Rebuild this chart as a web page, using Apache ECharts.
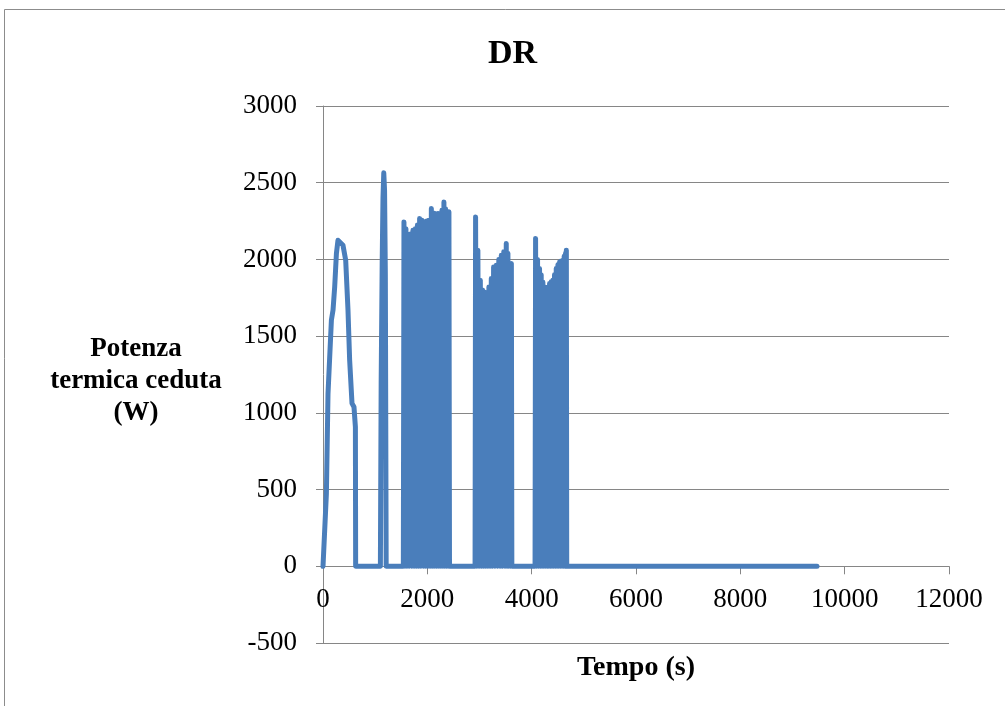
<!DOCTYPE html>
<html><head><meta charset="utf-8">
<script src="https://cdn.jsdelivr.net/npm/echarts@6/dist/echarts.min.js"></script>
<style>html,body{margin:0;padding:0;background:#fff}#c{width:1005px;height:706px}</style>
</head><body><div id="c"></div>
<script>
// ---- data (time in s, thermal power in W) ----
const preludeTime  = [0, 33, 65, 96, 161, 192, 224, 257, 287, 320, 383, 435, 479, 511, 556, 594, 621, 626, 1100, 1115, 1135, 1150, 1165, 1180, 1195, 1211, 1540];
const preludePower = [0, 0, 474, 1126, 1604, 1669, 1821, 2038, 2125, 2128, 2092, 1995, 1669, 1343, 1062, 1038, 908, 0, 0, 1200, 2000, 2400, 2565, 2450, 1900, 0, 0];

const block1Time  = [1540, 1552, 1571, 1590, 1609, 1628, 1652, 1676, 1700, 1724, 1747, 1770, 1790, 1810, 1831, 1852, 1876, 1900, 1924, 1948, 1969, 1990, 2010, 2030, 2053, 2077, 2093, 2110, 2130, 2150, 2176, 2203, 2221, 2240, 2260, 2280, 2299, 2318, 2334, 2350, 2367, 2385, 2399, 2414, 2425];
const block1Power = [0, 2244, 0, 2200, 0, 2158, 0, 2165, 0, 2190, 0, 2200, 0, 2225, 0, 2266, 0, 2255, 0, 2244, 0, 2250, 0, 2255, 0, 2332, 0, 2305, 0, 2300, 0, 2299, 0, 2300, 0, 2320, 0, 2375, 0, 2330, 0, 2312, 0, 2310, 0];

const block2Time  = [2915, 2925, 2947, 2969, 2992, 3016, 3038, 3060, 3079, 3098, 3119, 3140, 3160, 3180, 3203, 3226, 3248, 3270, 3296, 3322, 3346, 3370, 3394, 3418, 3441, 3465, 3489, 3513, 3529, 3545, 3561, 3577, 3594, 3611, 3620];
const block2Power = [0, 2277, 0, 2060, 0, 1864, 0, 1800, 0, 1788, 0, 1760, 0, 1821, 0, 1876, 0, 1951, 0, 1962, 0, 2000, 0, 2027, 0, 2050, 0, 2104, 0, 2040, 0, 1973, 0, 1973, 0];

const block3Time  = [4065, 4075, 4094, 4113, 4132, 4151, 4167, 4183, 4199, 4215, 4234, 4253, 4272, 4291, 4304, 4317, 4330, 4343, 4359, 4375, 4390, 4406, 4422, 4438, 4455, 4471, 4487, 4503, 4519, 4535, 4550, 4566, 4582, 4598, 4610, 4623, 4636, 4649, 4657, 4665, 4672];
const block3Power = [0, 2136, 0, 2000, 0, 1941, 0, 1900, 0, 1853, 0, 1820, 0, 1795, 0, 1820, 0, 1843, 0, 1855, 0, 1864, 0, 1900, 0, 1941, 0, 1965, 0, 1984, 0, 1990, 0, 1995, 0, 2020, 0, 2040, 0, 2060, 0];

const tailTime  = [9470];
const tailPower = [0];

const xTicks = { min: 0, max: 12000, step: 2000 };
const yTicks = { min: -500, max: 3000, step: 500 };

const titleText = 'DR';
const xName = 'Tempo (s)';
const yNameLines = ['Potenza', 'termica ceduta', '(W)'];

// ---- build series data ----
function zip(t, p) { return t.map((v, i) => [v, p[i]]); }
const seriesData = [].concat(
  zip(preludeTime, preludePower),
  zip(block1Time, block1Power),
  zip(block2Time, block2Power),
  zip(block3Time, block3Power),
  zip(tailTime, tailPower)
);

const FONT = 'Liberation Serif';
const GRID_COLOR = '#868686';
const GRID = { left: 323, right: 56, top: 106, bottom: 63 };
const plotH = 706 - GRID.top - GRID.bottom;
// x axis sits on the y = 0 line (Excel style): shift it up from the grid bottom
const zeroOffset = -plotH * (0 - yTicks.min) / (yTicks.max - yTicks.min);

const nameStyle = { fontFamily: FONT, fontWeight: 'bold', fontSize: 27, lineHeight: 32, color: '#000', align: 'center' };
// a short spacer line on top nudges the centred block down a little
const yName = ['{gap| }'].concat(yNameLines.map(s => '{line|' + s + '}')).join('\n');

const chart = echarts.init(document.getElementById('c'), null, { renderer: 'canvas' });
chart.setOption({
  animation: false,
  backgroundColor: '#fff',
  title: {
    text: titleText,
    left: 483, top: 32,
    textStyle: { fontFamily: FONT, fontWeight: 'bold', fontSize: 34, color: '#000' }
  },
  graphic: [{
    type: 'rect', silent: true,
    shape: { x: 4.5, y: 9.5, width: 1010, height: 710 },
    style: { fill: 'none', stroke: '#8c8c8c', lineWidth: 1 }
  }],
  grid: Object.assign({ containLabel: false, outerBoundsMode: 'none' }, GRID),
  xAxis: {
    type: 'value', min: xTicks.min, max: xTicks.max, interval: xTicks.step,
    position: 'bottom', offset: zeroOffset,
    name: xName, nameLocation: 'middle', nameGap: 101,
    nameTextStyle: { fontFamily: FONT, fontWeight: 'bold', fontSize: 28, color: '#000', verticalAlign: 'middle' },
    axisLine: { show: true, onZero: false, lineStyle: { color: GRID_COLOR, width: 1 } },
    axisTick: { show: true, length: 8, lineStyle: { color: GRID_COLOR } },
    axisLabel: { fontFamily: FONT, fontSize: 27, color: '#000', margin: 20, formatter: v => String(v) },
    splitLine: { show: false }
  },
  yAxis: {
    type: 'value', min: yTicks.min, max: yTicks.max, interval: yTicks.step,
    name: yName, nameLocation: 'middle', nameGap: 187, nameRotate: 0,
    nameTextStyle: Object.assign({}, nameStyle, {
      verticalAlign: 'middle',
      rich: {
        gap: { fontFamily: FONT, fontSize: 8, lineHeight: 14, align: 'center' },
        line: Object.assign({}, nameStyle)
      }
    }),
    axisLine: { show: true, lineStyle: { color: GRID_COLOR, width: 1 } },
    axisTick: { show: true, length: 7, lineStyle: { color: GRID_COLOR } },
    axisLabel: { fontFamily: FONT, fontSize: 27, color: '#000', margin: 26, formatter: v => String(v) },
    splitLine: { show: true, lineStyle: { color: GRID_COLOR, width: 1 } }
  },
  series: [{
    type: 'line',
    data: seriesData,
    showSymbol: false, symbol: 'none',
    lineStyle: { color: '#4A7EBB', width: 5, cap: 'round', join: 'round' }
  }]
});
</script>
</body></html>
